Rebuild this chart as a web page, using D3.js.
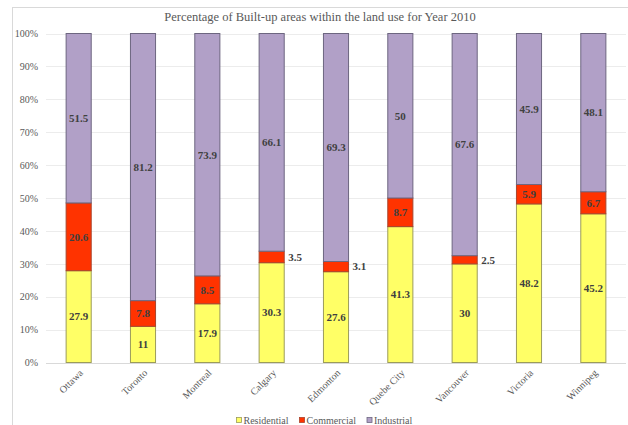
<!DOCTYPE html>
<html>
<head>
<meta charset="utf-8">
<script src="https://cdn.jsdelivr.net/npm/d3@7"></script>
<style>
  html, body { margin: 0; padding: 0; background: #fff; }
  svg { display: block; }
  svg text { font-family: "Liberation Serif", "Times New Roman", "DejaVu Serif", serif !important; }
</style>
</head>
<body>
<svg id="chart" width="628" height="425"></svg>
<script>
// Land-use shares of built-up area by city, 2010
const cities = ["Ottawa", "Toronto", "Montreal", "Calgary", "Edmonton", "Quebe City", "Vancouver", "Victoria", "Winnipeg"];
const residential = [27.9, 11, 17.9, 30.3, 27.6, 41.3, 30, 48.2, 45.2];
const commercial  = [20.6, 7.8, 8.5, 3.5, 3.1, 8.7, 2.5, 5.9, 6.7];
const industrial  = [51.5, 81.2, 73.9, 66.1, 69.3, 50, 67.6, 45.9, 48.1];
const seriesNames = ["Residential", "Commercial", "Industrial"];
const yTicks = [0, 0.1, 0.2, 0.3, 0.4, 0.5, 0.6, 0.7, 0.8, 0.9, 1];
const title = "Percentage of Built-up areas within the land use for Year 2010";

const colors = { Residential: "#FFFF66", Commercial: "#FF3300", Industrial: "#B1A0C7" };
const strokes = { Residential: "#9c9c5a", Commercial: "#a8442c", Industrial: "#6d6680" };

const rows = cities.map((c, i) => ({
  city: c, Residential: residential[i], Commercial: commercial[i], Industrial: industrial[i]
}));

const svg = d3.select("#chart");

// outer chart frame
svg.append("rect").attr("x", 12.5).attr("y", 7.5).attr("width", 640).attr("height", 440)
  .attr("fill", "none").attr("stroke", "#d9d9d9");

const x = d3.scaleBand().domain(cities).range([46.5, 625.5]).paddingInner(0.61).paddingOuter(0.305);
const y = d3.scaleLinear().domain([0, 1]).range([362.5, 33.5]);

// gridlines
svg.append("g").selectAll("line").data(yTicks).join("line")
  .attr("x1", 46).attr("x2", 626)
  .attr("y1", d => Math.round(y(d)) + 0.5).attr("y2", d => Math.round(y(d)) + 0.5)
  .attr("stroke", d => d === 0 ? "#d9d9d9" : "#ececec").attr("stroke-width", 1);

// y axis labels
const yAxis = d3.axisLeft(y).tickValues(yTicks).tickFormat(d3.format(".0%")).tickSize(0).tickPadding(0);
const yg = svg.append("g").attr("transform", "translate(38,0)").call(yAxis);
yg.attr("font-family", null);
yg.select(".domain").remove();
yg.selectAll("text").attr("font-size", 10).attr("fill", "#595959");

// stacked, normalized to 100%
const stack = d3.stack().keys(seriesNames).offset(d3.stackOffsetExpand);
const layers = stack(rows);

const g = svg.append("g");
layers.forEach(layer => {
  const key = layer.key;
  g.append("g").selectAll("rect").data(layer).join("rect")
    .attr("x", d => x(d.data.city))
    .attr("y", d => y(d[1]))
    .attr("width", x.bandwidth())
    .attr("height", d => y(d[0]) - y(d[1]))
    .attr("fill", colors[key])
    .attr("stroke", strokes[key])
    .attr("stroke-width", 1);
});

// value labels
layers.forEach(layer => {
  const key = layer.key;
  layer.forEach(d => {
    const h = y(d[0]) - y(d[1]);
    const val = d.data[key];
    const cy = (y(d[0]) + y(d[1])) / 2;
    const inside = h >= 14;
    svg.append("text")
      .attr("x", inside ? x(d.data.city) + x.bandwidth() / 2 : x(d.data.city) + x.bandwidth() + 4)
      .attr("y", cy)
      .attr("dy", "0.35em")
      .attr("text-anchor", inside ? "middle" : "start")
      .attr("font-size", 11).attr("font-weight", "bold").attr("fill", "#404040")
      .text(val);
  });
});

// category labels, rotated
const xAxis = d3.axisBottom(x).tickSize(0).tickPadding(0);
const xg = svg.append("g").attr("transform", "translate(0,362.5)").call(xAxis);
xg.attr("font-family", null);
xg.select(".domain").remove();
xg.selectAll("text")
  .attr("font-size", 10).attr("fill", "#595959")
  .attr("text-anchor", "end").attr("dy", null).attr("y", null)
  .attr("transform", "translate(5,11) rotate(-45)");

// title
svg.append("text").attr("x", 320).attr("y", 21).attr("text-anchor", "middle")
  .attr("font-size", 12.5).attr("fill", "#595959").text(title);

// legend
const legendX = [236.5, 299.5, 367];
const lg = svg.append("g");
seriesNames.forEach((s, i) => {
  lg.append("rect").attr("x", legendX[i]).attr("y", 417.5).attr("width", 5).attr("height", 5)
    .attr("fill", colors[s]).attr("stroke", strokes[s]).attr("stroke-width", 0.8);
  lg.append("text").attr("x", legendX[i] + 7).attr("y", 420).attr("dy", "0.35em")
    .attr("font-size", 10).attr("fill", "#595959").text(s);
});
</script>
</body>
</html>
